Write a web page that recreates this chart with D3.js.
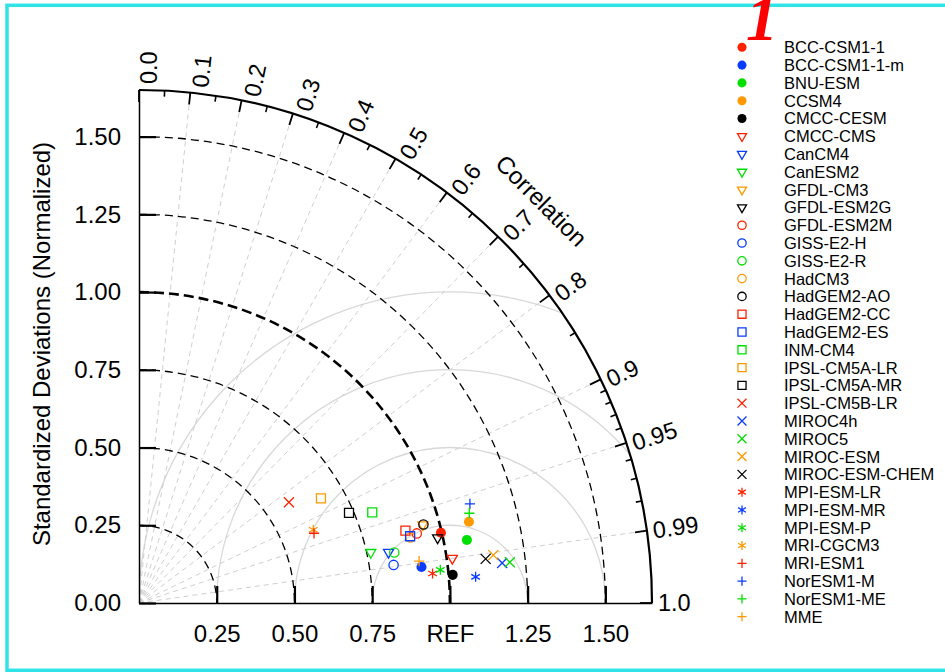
<!DOCTYPE html>
<html>
<head>
<meta charset="utf-8">
<script src="https://cdn.jsdelivr.net/npm/d3@7"></script>
<style>
  body { margin: 0; background: #fff; }
  svg { display: block; font-family: "Liberation Sans", Arial, Helvetica, sans-serif; }
</style>
</head>
<body>
<div id="chart"></div>
<script>
// models in legend order
const models = [
  'BCC-CSM1-1', 'BCC-CSM1-1-m', 'BNU-ESM', 'CCSM4', 'CMCC-CESM',
  'CMCC-CMS', 'CanCM4', 'CanESM2', 'GFDL-CM3', 'GFDL-ESM2G',
  'GFDL-ESM2M', 'GISS-E2-H', 'GISS-E2-R', 'HadCM3', 'HadGEM2-AO',
  'HadGEM2-CC', 'HadGEM2-ES', 'INM-CM4', 'IPSL-CM5A-LR', 'IPSL-CM5A-MR',
  'IPSL-CM5B-LR', 'MIROC4h', 'MIROC5', 'MIROC-ESM', 'MIROC-ESM-CHEM',
  'MPI-ESM-LR', 'MPI-ESM-MR', 'MPI-ESM-P', 'MRI-CGCM3',
  'MRI-ESM1', 'NorESM1-M', 'NorESM1-ME', 'MME'
];
// normalized standard deviation
const stdDev = [
  0.997, 0.916, 1.074, 1.093, 1.013,
  1.018, 0.819, 0.763, 0.947, 0.983,
  0.921, 0.828, 0.837, 0.898, 0.949,
  0.888, 0.898, 0.805, 0.675, 0.735,
  0.581, 1.175, 1.200, 1.150, 1.124,
  0.949, 1.086, 0.975, 0.608,
  0.606, 1.111, 1.101, 0.911
];
// correlation with reference
const corr = [
  0.974, 0.992, 0.982, 0.971, 0.996,
  0.990, 0.980, 0.977, 0.964, 0.977,
  0.970, 0.989, 0.981, 0.972, 0.964,
  0.965, 0.971, 0.932, 0.867, 0.919,
  0.830, 0.994, 0.994, 0.991, 0.992,
  0.995, 0.997, 0.994, 0.922,
  0.929, 0.958, 0.965, 0.989
];
const stdTicks = [0.25, 0.5, 0.75, 1.0, 1.25, 1.5];
const yTicks = [0, 0.25, 0.5, 0.75, 1.0, 1.25, 1.5];
const corrMajor = [0, 0.1, 0.2, 0.3, 0.4, 0.5, 0.6, 0.7, 0.8, 0.9, 0.95, 0.99, 1.0];
const corrLabels = ['0.0', '0.1', '0.2', '0.3', '0.4', '0.5', '0.6', '0.7', '0.8', '0.9', '0.95', '0.99', '1.0'];
const corrMinor = [0.05, 0.15, 0.25, 0.35, 0.45, 0.55, 0.65, 0.75, 0.85,
  0.91, 0.92, 0.93, 0.94, 0.96, 0.97, 0.98];
const rmsRadii = [0.25, 0.5, 0.75, 1.0];
const maxStd = 1.65;

// marker style: shape groups in legend order, colours cycle
const shapeGroups = [['dot', 5], ['tri', 5], ['circle', 5], ['square', 5], ['times', 5], ['star', 4], ['plus', 4]];
const palette = ['#ff2200', '#0a3cff', '#00e000', '#ff9900', '#000000'];
const styles = [];
shapeGroups.forEach(([shape, n]) => {
  for (let k = 0; k < n; k++) styles.push({ shape, color: palette[k] });
});

const width = 945, height = 672;
const cx = 139, cy = 603, R = 513;

const svg = d3.select('#chart').append('svg')
  .attr('width', width)
  .attr('height', height);

svg.append('rect').attr('width', width).attr('height', height).attr('fill', '#fff');

// frame
svg.append('rect')
  .attr('x', 7).attr('y', 5.3)
  .attr('width', 1000).attr('height', 665)
  .attr('fill', 'none')
  .attr('stroke', '#2fe3e6')
  .attr('stroke-width', 3.5);

const rScale = d3.scaleLinear().domain([0, maxStd]).range([0, R]);
const xScale = d3.scaleLinear().domain([0, maxStd]).range([cx, cx + R]);
const yScale = d3.scaleLinear().domain([0, maxStd]).range([cy, cy - R]);
const toXY = (s, c) => {
  const t = Math.acos(c);
  return [cx + rScale(s) * Math.cos(t), cy - rScale(s) * Math.sin(t)];
};

// clip to the quarter disk
const quarter = d3.path();
quarter.moveTo(cx, cy);
quarter.lineTo(cx, cy - R);
quarter.arc(cx, cy, R, -Math.PI / 2, 0);
quarter.closePath();
svg.append('clipPath').attr('id', 'qclip').append('path').attr('d', quarter.toString());

const grid = svg.append('g').attr('clip-path', 'url(#qclip)');

// RMS circles around REF
grid.selectAll('.rms').data(rmsRadii).enter().append('path')
  .attr('d', d => {
    const p = d3.path();
    const x0 = xScale(1), rr = rScale(d);
    p.moveTo(x0 - rr, cy);
    p.arc(x0, cy, rr, Math.PI, 2 * Math.PI);
    return p.toString();
  })
  .attr('fill', 'none')
  .attr('stroke', '#d8d8d8')
  .attr('stroke-width', 1.3);

// correlation rays
grid.selectAll('.ray').data(corrMajor.filter(c => c > 0 && c < 1)).enter().append('line')
  .attr('x1', cx).attr('y1', cy)
  .attr('x2', d => toXY(maxStd, d)[0])
  .attr('y2', d => toXY(maxStd, d)[1])
  .attr('stroke', '#cfcfcf')
  .attr('stroke-width', 1)
  .attr('stroke-dasharray', '5,4');

// std dev arcs
grid.selectAll('.sarc').data(stdTicks).enter().append('path')
  .attr('d', d => {
    const p = d3.path();
    p.moveTo(cx, cy - rScale(d));
    p.arc(cx, cy, rScale(d), -Math.PI / 2, 0);
    return p.toString();
  })
  .attr('fill', 'none')
  .attr('stroke', '#000')
  .attr('stroke-width', d => d === 1 ? 2.6 : 1.3)
  .attr('stroke-dasharray', d => d === 1 ? '10,5' : '8,5');

const fontAx = 24;

// y axis
const yAxis = svg.append('g')
  .attr('transform', `translate(${cx},0)`)
  .call(d3.axisLeft(yScale).tickValues(yTicks).tickSizeInner(-17).tickSizeOuter(0)
    .tickPadding(18).tickFormat(d3.format('.2f')));
yAxis.attr('font-size', fontAx).attr('font-family', null);
yAxis.select('.domain').attr('stroke-width', 1.5);
yAxis.selectAll('.tick line').attr('stroke-width', 2.2);

// x axis
const xAxis = svg.append('g')
  .attr('transform', `translate(0,${cy})`)
  .call(d3.axisBottom(xScale).tickValues(stdTicks).tickSizeInner(-17).tickSizeOuter(0)
    .tickPadding(22).tickFormat(d => d === 1 ? 'REF' : d3.format('.2f')(d)));
xAxis.attr('font-size', fontAx).attr('font-family', null);
xAxis.select('.domain').attr('stroke-width', 1.5);
xAxis.selectAll('.tick line').attr('stroke-width', 2.2);

// outer arc
const outer = d3.path();
outer.moveTo(cx, cy - R);
outer.arc(cx, cy, R, -Math.PI / 2, 0);
svg.append('path').attr('d', outer.toString())
  .attr('fill', 'none').attr('stroke', '#000').attr('stroke-width', 2.2);

// correlation ticks
const tickLine = (c, len) => {
  const t = Math.acos(c);
  return { x1: cx + R * Math.cos(t), y1: cy - R * Math.sin(t),
           x2: cx + (R - len) * Math.cos(t), y2: cy - (R - len) * Math.sin(t) };
};
svg.selectAll('.cmaj').data(corrMajor).enter().append('line')
  .each(function (d) { d3.select(this).attr('x1', tickLine(d, 12).x1).attr('y1', tickLine(d, 12).y1)
    .attr('x2', tickLine(d, 12).x2).attr('y2', tickLine(d, 12).y2); })
  .attr('stroke', '#000').attr('stroke-width', 1.8);
svg.selectAll('.cmin').data(corrMinor).enter().append('line')
  .each(function (d) { d3.select(this).attr('x1', tickLine(d, 6).x1).attr('y1', tickLine(d, 6).y1)
    .attr('x2', tickLine(d, 6).x2).attr('y2', tickLine(d, 6).y2); })
  .attr('stroke', '#000').attr('stroke-width', 1.6);

// correlation labels
svg.selectAll('.clab').data(corrMajor).enter().append('text')
  .attr('transform', d => {
    const t = Math.acos(d);
    const p = [cx + (R + 6) * Math.cos(t), cy - (R + 6) * Math.sin(t)];
    return `translate(${p[0]},${p[1]}) rotate(${-t * 180 / Math.PI})`;
  })
  .attr('dy', d => 7.5 + 10 * Math.sin(Math.acos(d)))
  .attr('font-size', 23.5)
  .text((d, i) => corrLabels[i]);

svg.append('text')
  .attr('transform', `translate(${cx + 569 * Math.cos(Math.PI / 4)},${cy - 569 * Math.sin(Math.PI / 4)}) rotate(45)`)
  .attr('text-anchor', 'middle')
  .attr('dy', '0.35em')
  .attr('font-size', 24)
  .text('Correlation');

svg.append('text')
  .attr('transform', 'translate(42,344) rotate(-90)')
  .attr('text-anchor', 'middle')
  .attr('dy', '0.35em')
  .attr('font-size', 24)
  .text('Standardized Deviations (Normalized)');

// markers
const symbolFor = (shape, k) => {
  switch (shape) {
    case 'dot': return d3.symbol(d3.symbolCircle, 80 * k * k)();
    case 'circle': return d3.symbol(d3.symbolCircle, 68 * k * k)();
    case 'tri': return d3.symbol(d3.symbolTriangle, 44 * k * k)();
    case 'square': return d3.symbol(d3.symbolSquare, 81 * k * k)();
    case 'times': return d3.symbol(d3.symbolTimes, 67 * k * k)();
    case 'star': return d3.symbol(d3.symbolAsterisk, 70 * k * k)();
    case 'plus': return d3.symbol(d3.symbolPlus, 36 * k * k)();
  }
};
const drawMarker = (sel, i, k) => {
  const st = styles[i];
  sel.append('path')
    .attr('d', symbolFor(st.shape, k))
    .attr('transform', st.shape === 'tri' ? 'rotate(180)' : null)
    .attr('fill', st.shape === 'dot' ? st.color : 'none')
    .attr('stroke', st.shape === 'dot' ? 'none' : st.color)
    .attr('stroke-width', 1.3);
};

const pts = svg.append('g');
models.forEach((m, i) => {
  const [x, y] = toXY(stdDev[i], corr[i]);
  const g = pts.append('g').attr('transform', `translate(${x},${y})`);
  drawMarker(g, i, 1);
});

// legend
const legY = d3.scaleLinear().domain([0, models.length - 1]).range([47.3, 616.7]);
const leg = svg.append('g');
models.forEach((m, i) => {
  const g = leg.append('g').attr('transform', `translate(742,${legY(i)})`);
  drawMarker(g, i, 0.9);
  g.append('text')
    .attr('x', 42)
    .attr('dy', '0.36em')
    .attr('font-size', 16.5)
    .text(m);
});

// red panel mark at the top
svg.append('text')
  .attr('x', 746).attr('y', 40)
  .attr('font-family', '"Liberation Serif", "DejaVu Serif", serif')
  .attr('font-style', 'italic')
  .attr('font-weight', 'bold')
  .attr('font-size', 64)
  .attr('fill', '#ff0000')
  .text('1');
</script>
</body>
</html>
